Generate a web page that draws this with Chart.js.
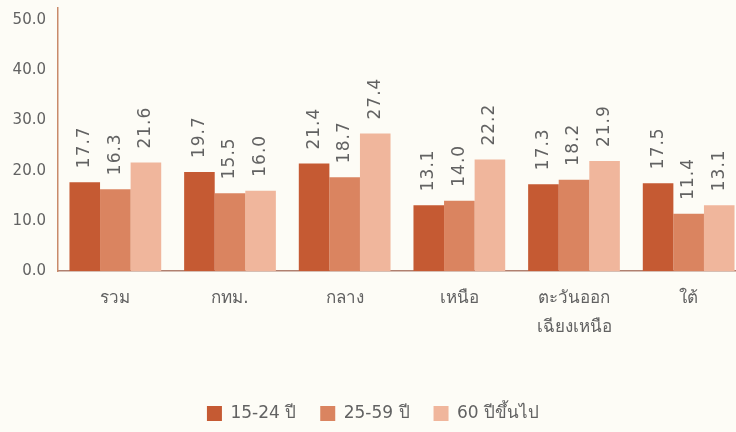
<!DOCTYPE html>
<html>
<head>
<meta charset="utf-8">
<script src="https://cdn.jsdelivr.net/npm/chart.js@4.4.1/dist/chart.umd.min.js"></script>
<style>
  html, body { margin: 0; padding: 0; background: #fdfcf6; overflow: hidden; }
  #wrap { width: 746px; height: 432px; }
</style>
</head>
<body>
<div id="wrap"><canvas id="chart" width="746" height="432"></canvas></div>
<script>
let categories = ['รวม', 'กทม.', 'กลาง', 'เหนือ', ['ตะวันออก', 'เฉียงเหนือ'], 'ใต้']
let seriesNames = ['15-24 ปี', '25-59 ปี', '60 ปีขึ้นไป']
let age15to24 = [17.7, 19.7, 21.4, 13.1, 17.3, 17.5]
let age25to59 = [16.3, 15.5, 18.7, 14.0, 18.2, 11.4]
let age60plus = [21.6, 16.0, 27.4, 22.2, 21.9, 13.1]
let yTicks = [0, 10, 20, 30, 40, 50]

let colors = ['#c55a33', '#da8460', '#f0b69c']
let textColor = '#626262'
let fontFamily = '"DejaVu Sans", "Noto Sans", sans-serif'

// rotated value labels above each bar
const valueLabels = {
    id: 'valueLabels',
    afterDatasetsDraw(chart) {
        const ctx = chart.ctx;
        ctx.save();
        ctx.font = '17px ' + fontFamily;
        ctx.letterSpacing = '1px';
        ctx.fillStyle = textColor;
        ctx.textAlign = 'left';
        ctx.textBaseline = 'middle';
        chart.data.datasets.forEach((ds, i) => {
            chart.getDatasetMeta(i).data.forEach((bar, j) => {
                ctx.save();
                ctx.translate(bar.x, bar.y - 14);
                ctx.rotate(-Math.PI / 2);
                ctx.fillText(ds.data[j].toFixed(1), 0, 0);
                ctx.restore();
            });
        });
        ctx.letterSpacing = '0px';
        ctx.restore();
    }
};

const ctx = document.getElementById('chart').getContext('2d');
const myChart = new Chart(ctx, {
    type: 'bar',
    data: {
        labels: categories,
        datasets: [
            { label: seriesNames[0], data: age15to24, backgroundColor: colors[0] },
            { label: seriesNames[1], data: age25to59, backgroundColor: colors[1] },
            { label: seriesNames[2], data: age60plus, backgroundColor: colors[2] }
        ]
    },
    options: {
        responsive: false,
        animation: false,
        layout: { padding: { top: 8, bottom: 0, left: 0, right: 0 } },
        categoryPercentage: 0.8,
        barPercentage: 1.0,
        plugins: {
            tooltip: { enabled: false },
            legend: {
                position: 'bottom',
                labels: {
                    boxWidth: 15,
                    boxHeight: 15,
                    padding: 24,
                    color: textColor,
                    font: { size: 17, family: fontFamily }
                }
            }
        },
        scales: {
            x: {
                grid: { display: false, drawTicks: false },
                border: { color: '#b08070', width: 1.5 },
                ticks: {
                    color: textColor,
                    padding: 13,
                    maxRotation: 0,
                    autoSkip: false,
                    font: { size: 17, family: fontFamily, lineHeight: 1.7 }
                },
                afterFit(scale) { scale.height = 110; }
            },
            y: {
                min: 0,
                max: 52.4,
                grid: { display: false, drawTicks: false },
                border: { color: '#c98a6a', width: 1.5 },
                afterBuildTicks(scale) { scale.ticks = yTicks.map(v => ({ value: v })); },
                ticks: {
                    color: textColor,
                    padding: 12,
                    font: { size: 15, family: fontFamily },
                    callback: v => v.toFixed(1)
                },
                afterFit(scale) {
                    scale.width = 58;
                    scale.paddingTop = 0;
                    scale.paddingBottom = 0;
                }
            }
        }
    },
    plugins: [valueLabels]
});
</script>
</body>
</html>
